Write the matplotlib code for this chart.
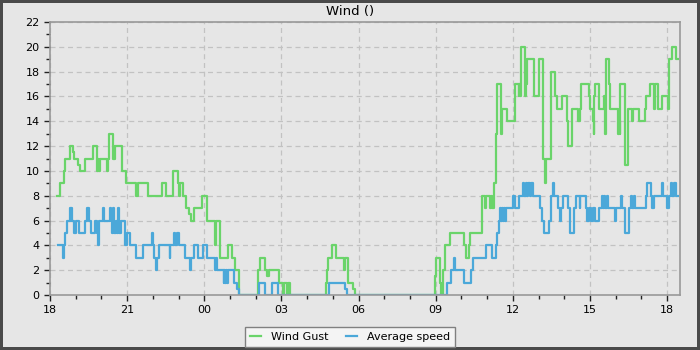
import pandas as pd
import numpy as np
import matplotlib
matplotlib.use("Agg")
import matplotlib.pyplot as plt
import matplotlib.dates as mdates

# hours since 18:00 on day one, and the value that holds from then on (step post)
gust_h = [0.26, 0.39, 0.53, 0.58, 0.78, 0.88, 0.93, 1.10, 1.17, 1.36, 1.69, 1.84, 1.88, 1.92, 1.95,
          2.21, 2.25, 2.30, 2.44, 2.47, 2.49, 2.52, 2.79, 2.96, 3.35, 3.42, 3.83, 4.35, 4.52, 4.78,
          4.80, 4.97, 5.02, 5.05, 5.16, 5.29, 5.42, 5.47, 5.60, 5.93, 6.10, 6.40, 6.45, 6.60, 6.92,
          7.08, 7.21, 7.34, 8.09, 8.18, 8.35, 8.45, 8.50, 8.89, 9.05, 9.10, 9.20, 9.25, 9.35, 10.75,
          10.78, 10.82, 10.95, 11.14, 11.42, 11.47, 11.60, 11.80, 11.87, 14.96, 15.00, 15.17, 15.22,
          15.30, 15.38, 15.55, 16.11, 16.16, 16.30, 16.35, 16.79, 16.93, 16.97, 17.10, 17.15, 17.18,
          17.25, 17.28, 17.34, 17.37, 17.53, 17.56, 17.77, 18.10, 18.22, 18.25, 18.28, 18.30, 18.47,
          18.50, 18.56, 18.82, 19.03, 19.19, 19.24, 19.30, 19.47, 19.50, 19.65, 19.70, 19.74, 19.91,
          20.10, 20.14, 20.30, 20.55, 20.60, 20.65, 20.95, 21.01, 21.10, 21.14, 21.17, 21.20, 21.36,
          21.56, 21.59, 21.62, 21.72, 21.79, 22.07, 22.10, 22.13, 22.16, 22.18, 22.36, 22.47, 22.62,
          22.66, 22.90, 23.12, 23.16, 23.35, 23.48, 23.54, 23.66, 23.80, 24.02, 24.06, 24.19, 24.35,
          24.41]
gust_v = [8, 9, 10, 11, 12, 11.5, 11, 10.5, 10, 11, 12, 10, 11, 10, 11,
          10, 11, 13, 11, 12, 11, 12, 10, 9, 8, 9, 8, 9, 8, 9,
          10, 9, 8, 9, 8, 7, 6.5, 6, 7, 8, 6, 4, 6, 3, 4,
          3, 2, 0, 2, 3, 2, 1.5, 2, 1, 0, 1, 0, 1, 0, 1,
          2, 3, 4, 3, 2, 3, 1, 0.5, 0, 1.5, 3, 1, 0,
          2, 4, 5, 4, 3, 4, 5, 8, 7, 8, 7, 8, 7,
          8, 9, 13, 17, 13, 15, 14, 17, 16, 17, 16, 20, 16,
          17, 19, 16, 19, 11, 9, 11, 15, 18, 16, 15, 15, 16,
          14, 12, 15, 14, 15, 17, 16, 15, 14, 13, 16, 17, 15,
          16, 13, 19, 17, 15, 14, 13, 14, 13, 17, 10.5, 15, 14,
          15, 14, 15, 16, 17, 15, 17, 15, 16, 15, 19, 20, 19,
          19]

avg_h = [0.32, 0.49, 0.53, 0.58, 0.65, 0.78, 0.80, 0.83, 0.86, 0.94, 1.00, 1.14, 1.36, 1.45, 1.50,
         1.58, 1.75, 1.82, 1.88, 1.92, 2.05, 2.10, 2.34, 2.38, 2.42, 2.46, 2.50, 2.55, 2.60, 2.65,
         2.70, 2.75, 2.92, 3.01, 3.12, 3.35, 3.61, 3.96, 4.00, 4.03, 4.13, 4.18, 4.22, 4.65, 4.68,
         4.83, 4.87, 4.95, 5.00, 5.26, 5.45, 5.50, 5.61, 5.75, 5.95, 6.10, 6.40, 6.45, 6.49, 6.75,
         6.78, 6.82, 6.86, 6.90, 6.94, 7.14, 7.27, 7.34, 8.14, 8.38, 8.63, 8.86, 10.84, 11.49, 11.55,
         15.43, 15.61, 15.70, 15.74, 16.10, 16.39, 16.46, 16.96, 17.20, 17.34, 17.40, 17.46, 17.50,
         17.53, 17.56, 17.60, 17.64, 17.68, 17.72, 18.00, 18.10, 18.24, 18.38, 18.45, 18.50, 18.55,
         18.60, 18.65, 18.70, 18.80, 19.06, 19.15, 19.20, 19.42, 19.50, 19.56, 19.60, 19.74, 19.83,
         19.87, 19.96, 20.15, 20.22, 20.39, 20.45, 20.60, 20.63, 20.84, 20.90, 20.97, 21.05, 21.10,
         21.20, 21.34, 21.45, 21.50, 21.55, 21.60, 21.65, 21.70, 21.98, 22.00, 22.20, 22.25, 22.36,
         22.50, 22.60, 22.65, 22.70, 22.75, 23.16, 23.22, 23.37, 23.42, 23.47, 23.80, 23.84, 24.00,
         24.06, 24.15, 24.20, 24.25, 24.35, 24.41]
avg_v = [4, 3, 4, 5, 6, 7, 6, 7, 6, 5, 6, 5, 6, 7, 6,
         5, 6, 5, 4, 6, 7, 6, 7, 6, 5, 7, 5, 6, 5, 7,
         5, 6, 4, 5, 4, 3, 4, 5, 4, 3, 2, 3, 4, 3, 4,
         5, 4, 5, 4, 3, 2, 3, 4, 3, 4, 3, 2, 3, 2, 1,
         2, 1, 2, 1, 2, 1, 0.5, 0, 1, 0, 1, 0, 1, 0.5, 0,
         1, 2, 3, 2, 1, 2, 3, 4, 3, 4, 5, 6, 7,
         6, 7, 6, 7, 6, 7, 8, 7, 8, 9, 8, 9, 8,
         9, 8, 9, 8, 7, 6, 5, 6, 8, 9, 8, 7, 6,
         7, 8, 7, 5, 7, 8, 7, 8, 7, 6, 7, 6, 7,
         6, 7, 8, 7, 8, 7, 8, 7, 6, 7, 8, 7, 5,
         7, 8, 7, 8, 7, 8, 9, 8, 7, 8, 9, 8, 7,
         8, 9, 8, 9, 8, 8]

start = pd.Timestamp("2024-05-01 18:00")
gust_t = start + pd.to_timedelta(gust_h, unit="h")
avg_t = start + pd.to_timedelta(avg_h, unit="h")

bg = '#e6e6e6'
fig = plt.figure(figsize=(7, 3.5), dpi=100, facecolor=bg, edgecolor='#4a4a4a', linewidth=3)
ax = fig.add_axes([50/700, 1-295/350, 630/700, 273/350], facecolor=bg)

ax.step(gust_t, gust_v, where='post', color='#6ad46a', lw=1.6, label='Wind Gust')
ax.step(avg_t, avg_v, where='post', color='#4ba8d9', lw=1.6, label='Average speed')

ax.set_xlim(start, start + pd.Timedelta(hours=24.5))
ax.set_ylim(0, 22)
ax.set_yticks(np.arange(0, 23, 2))
ax.set_yticks(np.arange(1, 22, 2), minor=True)
ax.xaxis.set_major_locator(mdates.HourLocator(byhour=range(0, 24, 3)))
ax.xaxis.set_minor_locator(mdates.HourLocator())
ax.xaxis.set_major_formatter(mdates.DateFormatter('%H'))

ax.tick_params(which='major', length=4, width=1, labelsize=8, color='#222222')
ax.tick_params(which='minor', length=3, width=1, color='#222222')
ax.grid(True, which='major', linestyle=(0, (4, 3)), color='#c2c2c2', lw=0.9)
ax.set_axisbelow(True)
for s in ax.spines.values():
    s.set_color('#999999')
    s.set_linewidth(1.2)

fig.suptitle('Wind ()', x=0.5, y=1-4.5/350, va='top', fontsize=9.5)

leg = fig.legend(loc='center', bbox_to_anchor=(0.5, 1-337/350), ncol=2, fontsize=8,
                 frameon=True, fancybox=False, handlelength=1.0, columnspacing=1.5,
                 borderpad=0.45, handletextpad=0.9)
leg.get_frame().set_facecolor('#f4f4f4')
leg.get_frame().set_edgecolor('#808080')
leg.get_frame().set_alpha(1)

fig.savefig('out.png', dpi=100, facecolor=bg, edgecolor=fig.get_edgecolor())
